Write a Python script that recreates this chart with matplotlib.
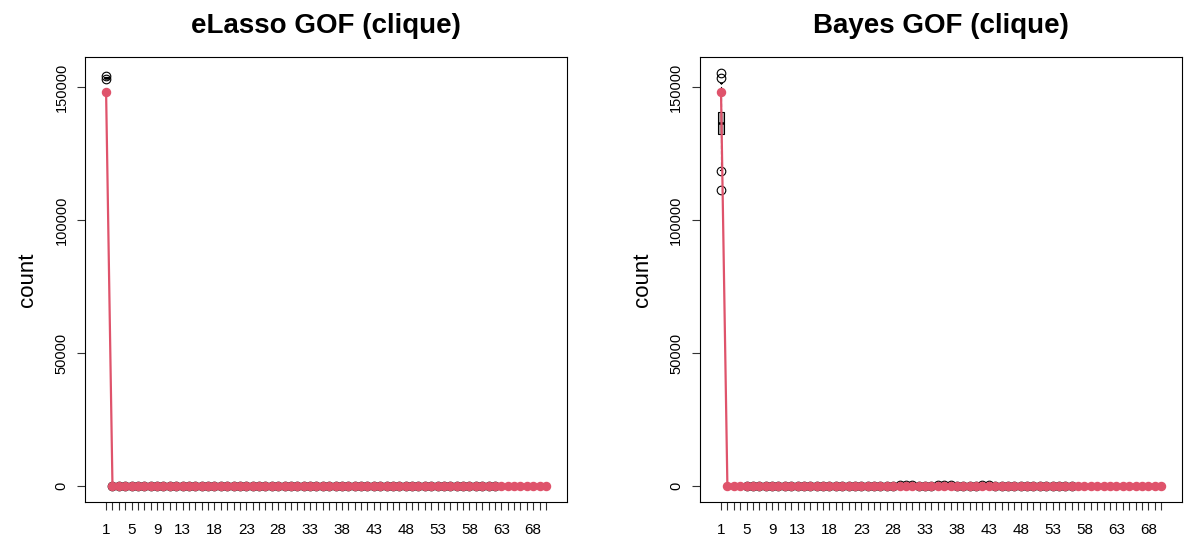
import numpy as np
import matplotlib.pyplot as plt

plt.rcParams['font.family'] = ['Liberation Sans', 'DejaVu Sans']

categories = np.arange(1, 71)
shown_labels = [1, 5, 9, 13, 18, 23, 28, 33, 38, 43, 48, 53, 58, 63, 68]

# observed clique counts (red line)
obs_elasso = [148000] + [0] * 69
obs_bayes = [148000] + [0] * 69

# simulated counts, summarised per category: q1, median, q3, whisker low/high, fliers
elasso_box1 = dict(q1=153400, med=153500, q3=153600, whislo=153300, whishi=153700,
                   fliers=[152900, 154100])
bayes_box1 = dict(q1=132300, med=136600, q3=140700, whislo=118800, whishi=151500,
                  fliers=[155400, 153500, 118500, 111300])

# small simulated counts for categories 2..n (shown as outlier circles near 0)
elasso_small = [50, 50, 50, 50, 100, 100, 100, 120, 120, 120, 120, 100, 100, 120, 120,
                120, 120, 120, 120, 120, 120, 120, 120, 120, 120, 120, 120, 150, 150,
                150, 200, 150, 150, 120, 120, 120, 120, 120, 120, 120, 120, 120, 120,
                120, 120, 120, 120, 120, 120, 120, 120, 120, 100, 100, 120, 150, 150,
                120, 120, 120, 120]
bayes_small = [0, 0, 0, 80, 80, 100, 100, 100, 100, 100, 100, 100, 100, 100, 100, 100,
               100, 100, 100, 120, 120, 120, 120, 150, 150, 180, 200, 250, 250, 220,
               180, 150, 200, 250, 250, 220, 200, 120, 120, 150, 220, 220, 180, 150,
               150, 150, 120, 120, 120, 120, 120, 100, 100, 100, 80]

red = '#DF536B'


def make_stats(box1, small):
    stats = [box1]
    for v in small:
        stats.append(dict(q1=0, med=0, q3=0, whislo=0, whishi=0,
                          fliers=[v] if v > 0 else []))
    return stats


def panel(ax, title, obs, box1, small):
    stats = make_stats(box1, small)
    pos = categories[:len(stats)]
    ax.bxp(stats, positions=pos, widths=0.8, patch_artist=True,
           boxprops=dict(facecolor='#A9A9A9', edgecolor='black', linewidth=0.8),
           medianprops=dict(color='black', linewidth=1.8),
           whiskerprops=dict(color='black', linestyle=(0, (3, 2)), linewidth=0.8),
           capprops=dict(color='black', linewidth=0.8),
           flierprops=dict(marker='o', markerfacecolor='none', markeredgecolor='black',
                           markersize=6.2, markeredgewidth=0.8),
           manage_ticks=False)
    ax.plot(categories, obs, color=red, linewidth=1.6, marker='o', markersize=5.8,
            zorder=5)
    ax.set_xlim(-2.3, 73.3)
    ax.set_ylim(-6000, 161300)
    ax.set_xticks(categories)
    ax.set_xticklabels([str(c) if c in shown_labels else '' for c in categories],
                       fontsize=11)
    ax.set_yticks([0, 50000, 100000, 150000])
    ax.set_yticklabels(['0', '50000', '100000', '150000'], rotation=90,
                       va='center', fontsize=10.5)
    ax.tick_params(axis='both', length=6, width=0.8, colors='#333333',
                   labelcolor='black')
    ax.tick_params(axis='x', pad=9)
    ax.tick_params(axis='y', pad=6)
    for s in ax.spines.values():
        s.set_linewidth(0.8)
    ax.set_ylabel('count', fontsize=16, labelpad=12)
    ax.set_title(title, fontsize=20, fontweight='bold', pad=17)


fig = plt.figure(figsize=(11.88, 5.36), dpi=100)
ax1 = fig.add_axes([0.0716, 0.0634, 0.4057, 0.8303])
ax2 = fig.add_axes([0.5892, 0.0634, 0.4058, 0.8303])
panel(ax1, 'eLasso GOF (clique)', obs_elasso, elasso_box1, elasso_small)
panel(ax2, 'Bayes GOF (clique)', obs_bayes, bayes_box1, bayes_small)

fig.savefig('out.png', dpi=100)
